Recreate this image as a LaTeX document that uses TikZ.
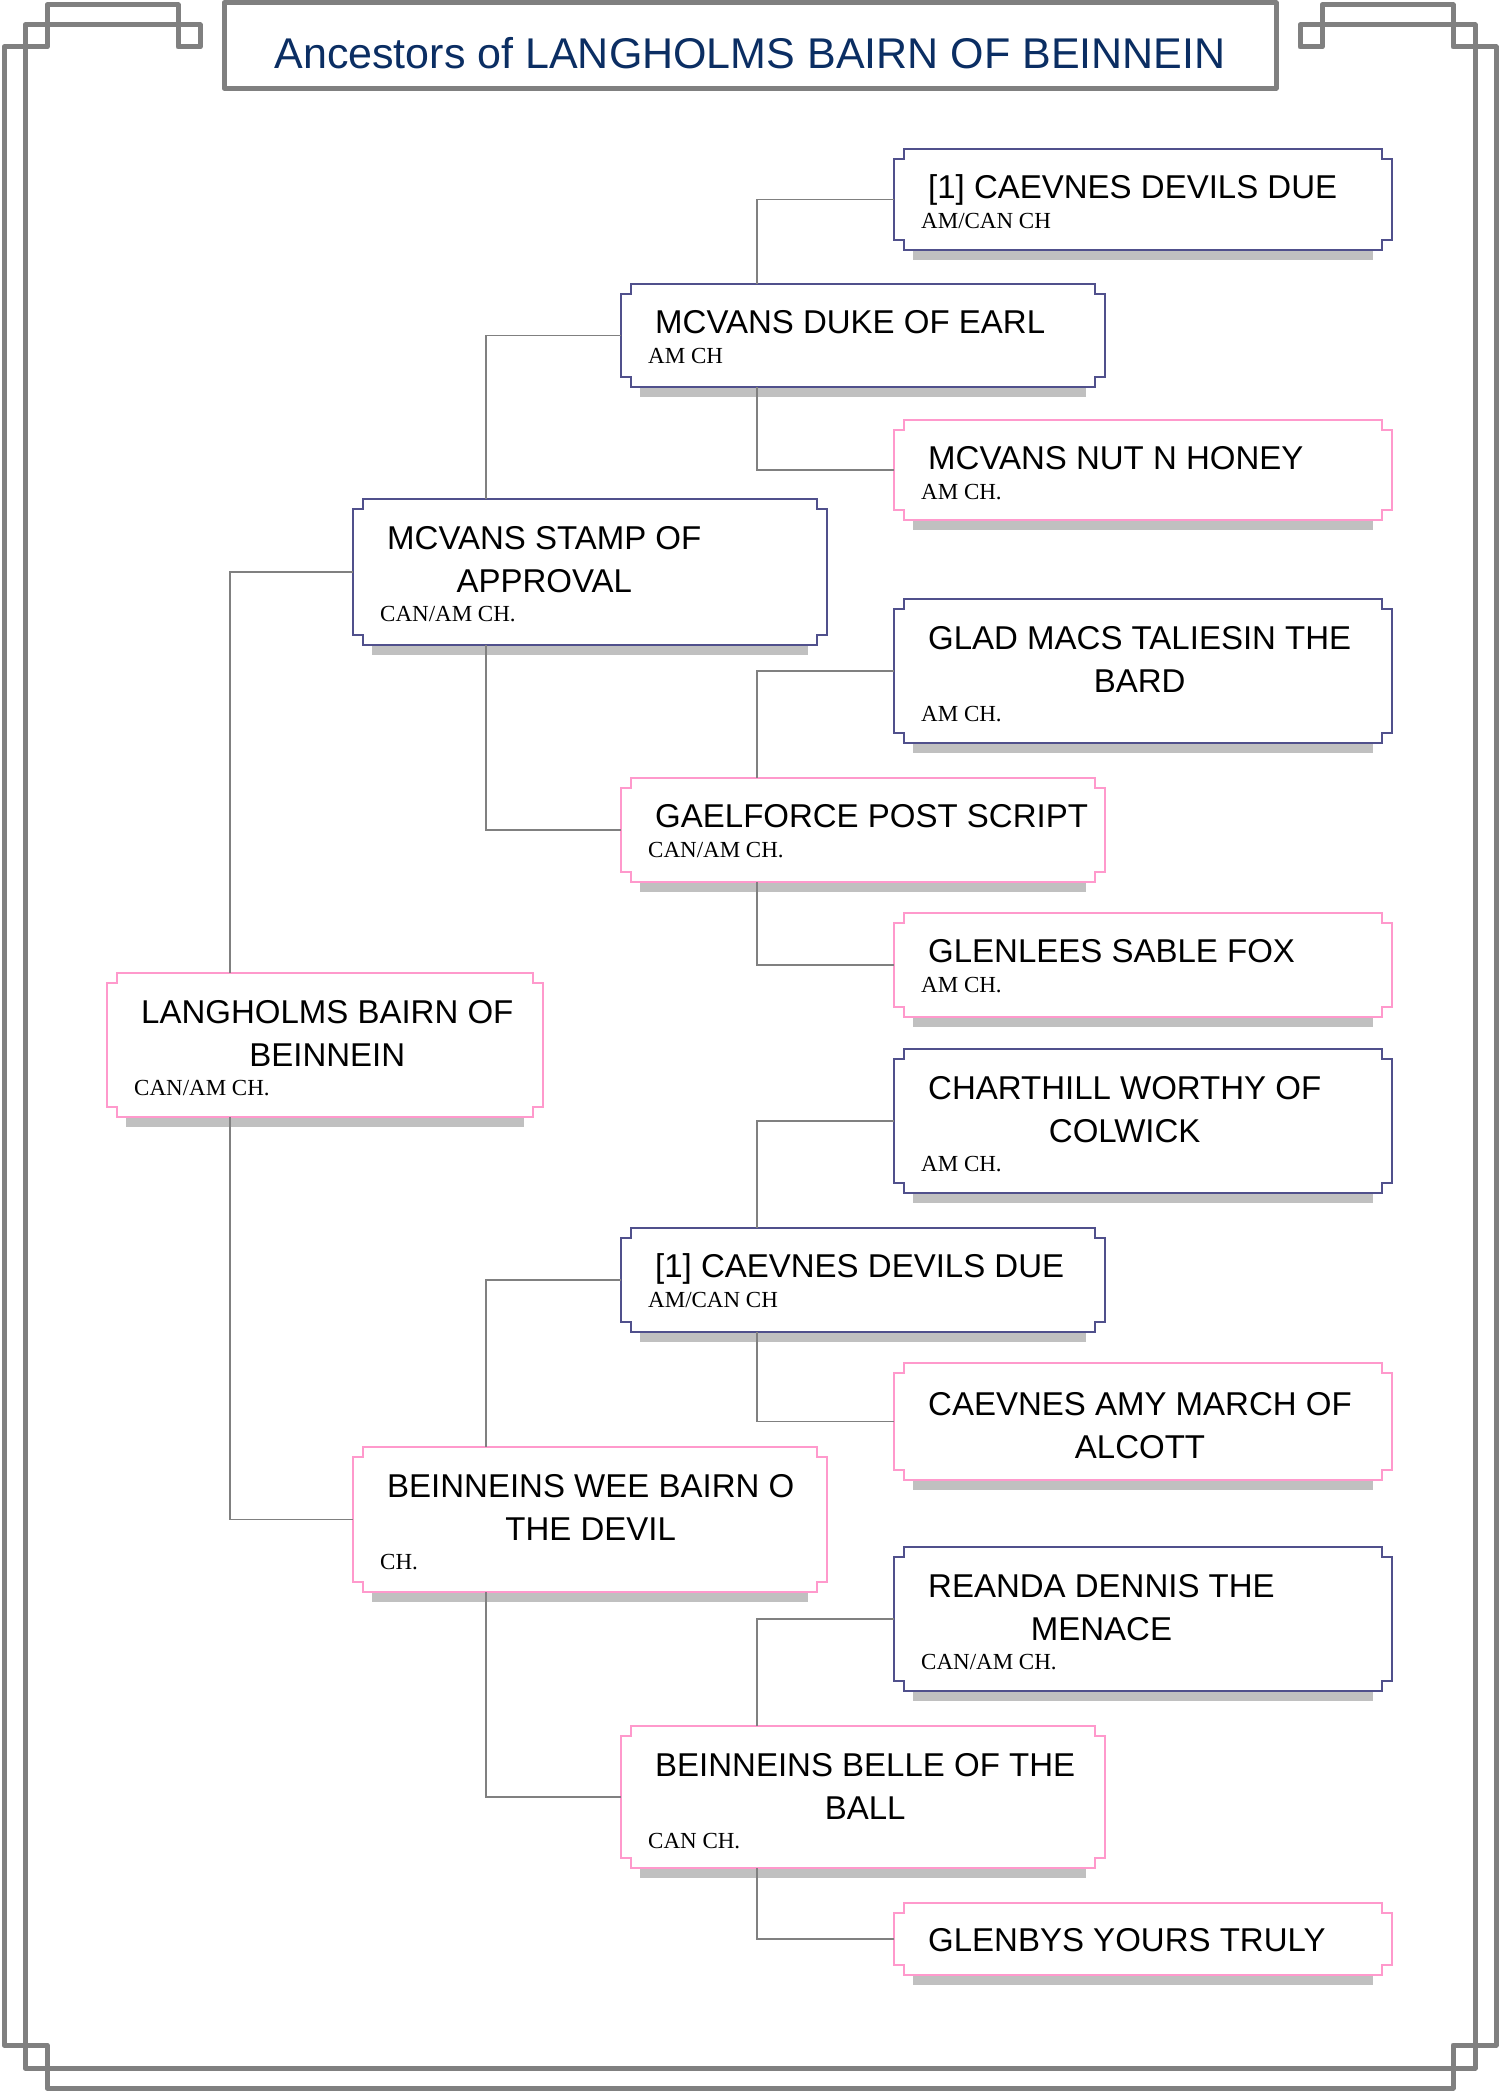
\documentclass[tikz,border=0pt]{standalone}
\usepackage{fontspec}
\setmainfont{Liberation Serif}
\newfontfamily\namefont{Liberation Sans}
\newfontfamily\subfont{Liberation Serif}
\definecolor{frameg}{HTML}{808080}
\definecolor{bluebd}{HTML}{50508C}
\definecolor{pinkbd}{HTML}{FF99CC}
\definecolor{shad}{HTML}{C0C0C0}
\definecolor{titlec}{HTML}{0B2E63}
\definecolor{conn}{HTML}{808080}
\tikzset{
  frame/.style={frameg,line width=5pt,line join=round,line cap=round},
  bx/.style={line width=2pt,line join=miter},
  nm/.style={font=\namefont\fontsize{33}{43}\selectfont,inner sep=0pt,align=center},
  sb/.style={font=\subfont\fontsize{23}{26}\selectfont,inner sep=0pt},
  cn/.style={conn,line width=1.5pt}
}
% #1 node name, #2 x1, #3 y1, #4 x2, #5 y2, #6 colour, #7 name baseline offset (last line), #8 name, #9 subtitle node
\newcommand\pedbox[9]{%
  \fill[shad] (#2+19,#5) rectangle (#4-19,#5+10);
  \filldraw[bx,#6,fill=white] (#2+10,#3) -- (#4-10,#3) -- (#4-10,#3+10) -- (#4,#3+10) -- (#4,#5-10) -- (#4-10,#5-10) -- (#4-10,#5) -- (#2+10,#5) -- (#2+10,#5-10) -- (#2,#5-10) -- (#2,#3+10) -- (#2+10,#3+10) -- cycle;
  \node[minimum width={(#4-#2)*1pt},minimum height={(#5-#3)*1pt},inner sep=0pt] (#1) at ({(#2+#4)/2},{(#3+#5)/2}) {};
  \node[nm,anchor=base west] (#1-n) at (#2+34,#3+#7) {#8};
  #9
}
\begin{document}
\begin{tikzpicture}[x=1pt,y=-1pt]
\useasboundingbox (0,0) rectangle (1500,2093);
\fill[white] (0,0) rectangle (1500,2093);
% frame
\draw[frame] (47,2088) -- (47,2045) -- (4,2045) -- (4,47) -- (47,47) -- (47,5) -- (178,5) -- (178,47) -- (200,47) -- (200,25) -- (25,25) -- (25,2068) -- (1475,2068) -- (1475,25) -- (1300,25) -- (1300,47) -- (1322,47) -- (1322,5) -- (1453,5) -- (1453,47) -- (1496,47) -- (1496,2045) -- (1453,2045) -- (1453,2088) -- cycle;
% title
\draw[frameg,line width=5pt,line join=round] (224,3) rectangle (1276,88);
\node[font=\namefont\fontsize{43}{50}\selectfont,text=titlec,inner sep=0pt,anchor=base] (title) at (750,68) {Ancestors of LANGHOLMS BAIRN OF BEINNEIN};
% coordinates for connector columns
\coordinate (X0) at (230,0);
\coordinate (X1) at (486,0);
\coordinate (X2) at (757,0);
% generation 3
\pedbox{b1}{894}{149}{1392}{250}{bluebd}{49}{[1] CAEVNES DEVILS DUE}{\node[sb,anchor=base west] (b1-s) at (894+27,149+79) {AM/CAN CH};}
\pedbox{b2}{894}{420}{1392}{520}{pinkbd}{49}{MCVANS NUT N HONEY}{\node[sb,anchor=base west] (b2-s) at (894+27,420+79) {AM CH.};}
\pedbox{b3}{894}{599}{1392}{743}{bluebd}{93}{GLAD MACS TALIESIN THE\\BARD}{\node[sb,anchor=base west] (b3-s) at (894+27,599+122) {AM CH.};}
\pedbox{b4}{894}{913}{1392}{1017}{pinkbd}{49}{GLENLEES SABLE FOX}{\node[sb,anchor=base west] (b4-s) at (894+27,913+79) {AM CH.};}
\pedbox{b5}{894}{1049}{1392}{1193}{bluebd}{93}{CHARTHILL WORTHY OF\\COLWICK}{\node[sb,anchor=base west] (b5-s) at (894+27,1049+122) {AM CH.};}
\pedbox{b6}{894}{1363}{1392}{1480}{pinkbd}{95}{CAEVNES AMY MARCH OF\\ALCOTT}{}
\pedbox{b7}{894}{1547}{1392}{1691}{bluebd}{93}{REANDA DENNIS THE\\MENACE}{\node[sb,anchor=base west] (b7-s) at (894+27,1547+122) {CAN/AM CH.};}
\pedbox{b8}{894}{1903}{1392}{1975}{pinkbd}{48}{GLENBYS YOURS TRULY}{}
% generation 2
\pedbox{c1}{621}{284}{1105}{387}{bluebd}{49}{MCVANS DUKE OF EARL}{\node[sb,anchor=base west] (c1-s) at (621+27,284+79) {AM CH};}
\pedbox{c2}{621}{778}{1105}{882}{pinkbd}{49}{GAELFORCE POST SCRIPT}{\node[sb,anchor=base west] (c2-s) at (621+27,778+79) {CAN/AM CH.};}
\pedbox{c3}{621}{1228}{1105}{1332}{bluebd}{49}{[1] CAEVNES DEVILS DUE}{\node[sb,anchor=base west] (c3-s) at (621+27,1228+79) {AM/CAN CH};}
\pedbox{c4}{621}{1726}{1105}{1868}{pinkbd}{93}{BEINNEINS BELLE OF THE\\BALL}{\node[sb,anchor=base west] (c4-s) at (621+27,1726+122) {CAN CH.};}
% generation 1
\pedbox{d1}{353}{499}{827}{645}{bluebd}{93}{MCVANS STAMP OF\\APPROVAL}{\node[sb,anchor=base west] (d1-s) at (353+27,499+122) {CAN/AM CH.};}
\pedbox{d2}{353}{1447}{827}{1592}{pinkbd}{93}{BEINNEINS WEE BAIRN O\\THE DEVIL}{\node[sb,anchor=base west] (d2-s) at (353+27,1447+122) {CH.};}
% generation 0
\pedbox{g0}{107}{973}{543}{1117}{pinkbd}{93}{LANGHOLMS BAIRN OF\\BEINNEIN}{\node[sb,anchor=base west] (g0-s) at (107+27,973+122) {CAN/AM CH.};}
% connectors
\draw[cn] (g0.north -| X0) |- (d1.west);
\draw[cn] (g0.south -| X0) |- (d2.west);
\draw[cn] (d1.north -| X1) |- (c1.west);
\draw[cn] (d1.south -| X1) |- (c2.west);
\draw[cn] (d2.north -| X1) |- (c3.west);
\draw[cn] (d2.south -| X1) |- (c4.west);
\draw[cn] (c1.north -| X2) |- (b1.west);
\draw[cn] (c1.south -| X2) |- (b2.west);
\draw[cn] (c2.north -| X2) |- (b3.west);
\draw[cn] (c2.south -| X2) |- (b4.west);
\draw[cn] (c3.north -| X2) |- (b5.west);
\draw[cn] (c3.south -| X2) |- (b6.west);
\draw[cn] (c4.north -| X2) |- (b7.west);
\draw[cn] (c4.south -| X2) |- (b8.west);
\end{tikzpicture}
\end{document}
